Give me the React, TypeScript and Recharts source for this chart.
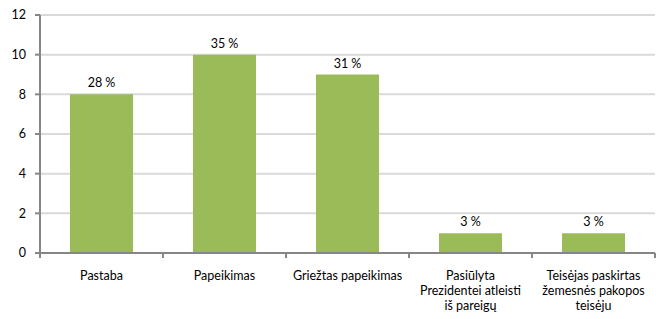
import React from 'react'
import { BarChart, Bar, XAxis, YAxis, CartesianGrid, LabelList } from 'recharts'

const categories = [
  'Pastaba',
  'Papeikimas',
  'Griežtas papeikimas',
  'Pasiūlyta Prezidentei atleisti iš pareigų',
  'Teisėjas paskirtas žemesnės pakopos teisėju',
]

const categoryLines = [
  ['Pastaba'],
  ['Papeikimas'],
  ['Griežtas papeikimas'],
  ['Pasiūlyta', 'Prezidentei atleisti', 'iš pareigų'],
  ['Teisėjas paskirtas', 'žemesnės pakopos', 'teisėju'],
]

const counts = [8, 10, 9, 1, 1]
const percentLabels = ['28 %', '35 %', '31 %', '3 %', '3 %']
const yTicks = [0, 2, 4, 6, 8, 10, 12]

const FONT = 'Lato, "Open Sans", sans-serif'
const AXIS_COLOR = '#868686'

const data = categories.map((name, i) => ({
  name,
  count: counts[i],
  pct: percentLabels[i],
}))

function CategoryTick(props: any) {
  const { x, y, payload, index } = props
  const half = payload.offset || 0
  const lines = categoryLines[index] || [payload.value]
  return (
    <g>
      <line x1={x - half} y1={y - 8} x2={x - half} y2={y - 3} stroke={AXIS_COLOR} strokeWidth={2} />
      {index === categories.length - 1 && (
        <line x1={x + half} y1={y - 8} x2={x + half} y2={y - 3} stroke={AXIS_COLOR} strokeWidth={2} />
      )}
      <text x={x} y={y} textAnchor="middle" fontFamily={FONT} fontSize={12.5} fill="#000">
        {lines.map((l: string, i: number) => (
          <tspan key={i} x={x} dy={i === 0 ? 19 : 15}>
            {l}
          </tspan>
        ))}
      </text>
    </g>
  )
}

export default function App() {
  return (
    <div style={{ position: 'absolute', left: 0, top: 0, background: '#fff' }}>
      <BarChart
        width={656}
        height={319}
        data={data}
        margin={{ top: 15, right: 1, bottom: 0, left: 0 }}
        barCategoryGap={30}
      >
        <CartesianGrid vertical={false} stroke="#d9d9d9" strokeWidth={2} />
        <XAxis
          dataKey="name"
          height={66}
          interval={0}
          tickLine={false}
          stroke={AXIS_COLOR}
          strokeWidth={2}
          tick={<CategoryTick />}
        />
        <YAxis
          width={40}
          domain={[0, 12]}
          ticks={yTicks}
          interval={0}
          stroke={AXIS_COLOR}
          strokeWidth={2}
          tickSize={5}
          tickMargin={9}
          tick={{ fontFamily: FONT, fontSize: 12.5, fill: '#000' }}
        />
        <Bar dataKey="count" fill="#9bbb59" isAnimationActive={false}>
          <LabelList
            dataKey="pct"
            position="top"
            offset={7}
            style={{ fontFamily: FONT, fontSize: 12.5, fill: '#000' }}
          />
        </Bar>
      </BarChart>
    </div>
  )
}
